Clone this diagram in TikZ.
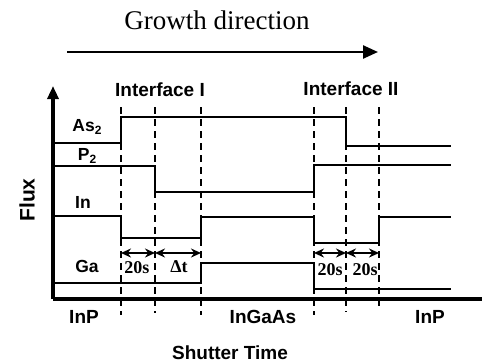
\documentclass[tikz,border=0pt]{standalone}
\usepackage{fontspec}
\setmainfont{Liberation Serif}
\setsansfont{Liberation Sans}
\usetikzlibrary{arrows.meta}
\newcommand{\subtwo}{\raisebox{-0.35ex}{\fontsize{12}{12}\selectfont 2}}
\begin{document}
\begin{tikzpicture}[x=1pt,y=-1pt,
  sig/.style={line width=2.4pt},
  thin sig/.style={line width=1.6pt},
  axis/.style={line width=3.5pt},
  guide/.style={line width=2.2pt,dash pattern=on 7pt off 5pt},
  dim/.style={line width=1.8pt,{Stealth[length=10pt,width=9pt]}-{Stealth[length=10pt,width=9pt]}},
  lab/.style={font=\sffamily\bfseries\fontsize{17.5}{17.5}\selectfont,inner sep=0pt,anchor=base},
  biglab/.style={font=\sffamily\bfseries\fontsize{19}{19}\selectfont,inner sep=0pt,anchor=base},
  ser/.style={font=\bfseries\fontsize{18}{18}\selectfont,inner sep=0pt,anchor=base}]
\useasboundingbox (0,0) rectangle (482,362);

% growth direction
\node[font=\fontsize{27}{27}\selectfont,inner sep=0pt,anchor=base] (growth) at (217,29) {Growth direction};
\coordinate (g0) at (67,52);
\coordinate (g1) at (378,52);
\draw[line width=2.4pt,-{Triangle[length=15pt,width=13pt]}] (g0) -- (g1);

% axes
\coordinate (origin) at (53,299);
\coordinate (ytop) at (53,86);
\coordinate (xend) at (482,299);
\draw[axis,-{Triangle[length=13pt,width=11pt]}] (origin) -- (ytop);
\draw[axis] (origin) -- (xend);

% traces
\draw[sig] (53,143) -- (121,143) -- (121,117) -- (346,117) -- (346,146) -- (451,146);
\draw[sig] (53,166) -- (155,166) -- (155,192) -- (314,192) -- (314,165) -- (451,165);
\draw[sig] (53,216) -- (121,216) -- (121,238) -- (201,238) -- (201,217) -- (314,217) -- (314,243) -- (379,243) -- (379,217) -- (451,217);
\draw[sig] (53,283) -- (201,283) -- (201,263) -- (314,263) -- (314,289);
\draw[thin sig] (314,289) -- (451,289);

% guide lines
\foreach \n/\x/\b in {d1/121/315, d2/155/313, d3/201/315, d4/314/315, d5/346/312, d6/379/307} {
  \coordinate (\n t) at (\x,107);
  \coordinate (\n b) at (\x,\b);
  \draw[guide] (\n t) -- (\n b);
}

% dimension arrows
\foreach \n/\x in {d1/121, d2/155, d3/201, d4/314, d5/346, d6/379} {
  \coordinate (\n a) at (\x,253);
}
\draw[dim] (d1a) -- (d2a);
\draw[dim] (d2a) -- (d3a);
\draw[dim] (d4a) -- (d5a);
\draw[dim] (d5a) -- (d6a);

\node[ser] (t1) at (137,273) {20s};
\node[ser] (t2) at (179,272) {Δt};
\node[ser] (t3) at (330,275) {20s};
\node[ser] (t4) at (365,275) {20s};

% labels
\node[biglab] (if1) at (160,96) {Interface I};
\node[biglab] (if2) at (351,95) {Interface II};
\node[lab] (as) at (87,131) {As\subtwo};
\node[lab] (p) at (87,160) {P\subtwo};
\node[lab] (in) at (83,208) {In};
\node[lab] (ga) at (87,272) {Ga};
\node[biglab] (inp1) at (84,323) {InP};
\node[biglab] (ingaas) at (263,323) {InGaAs};
\node[biglab] (inp2) at (430,323) {InP};
\node[biglab] (st) at (230,359) {Shutter Time};
\node[font=\sffamily\bfseries\fontsize{21}{21}\selectfont,inner sep=0pt,rotate=90] (flux) at (27,200) {Flux};
\end{tikzpicture}
\end{document}
